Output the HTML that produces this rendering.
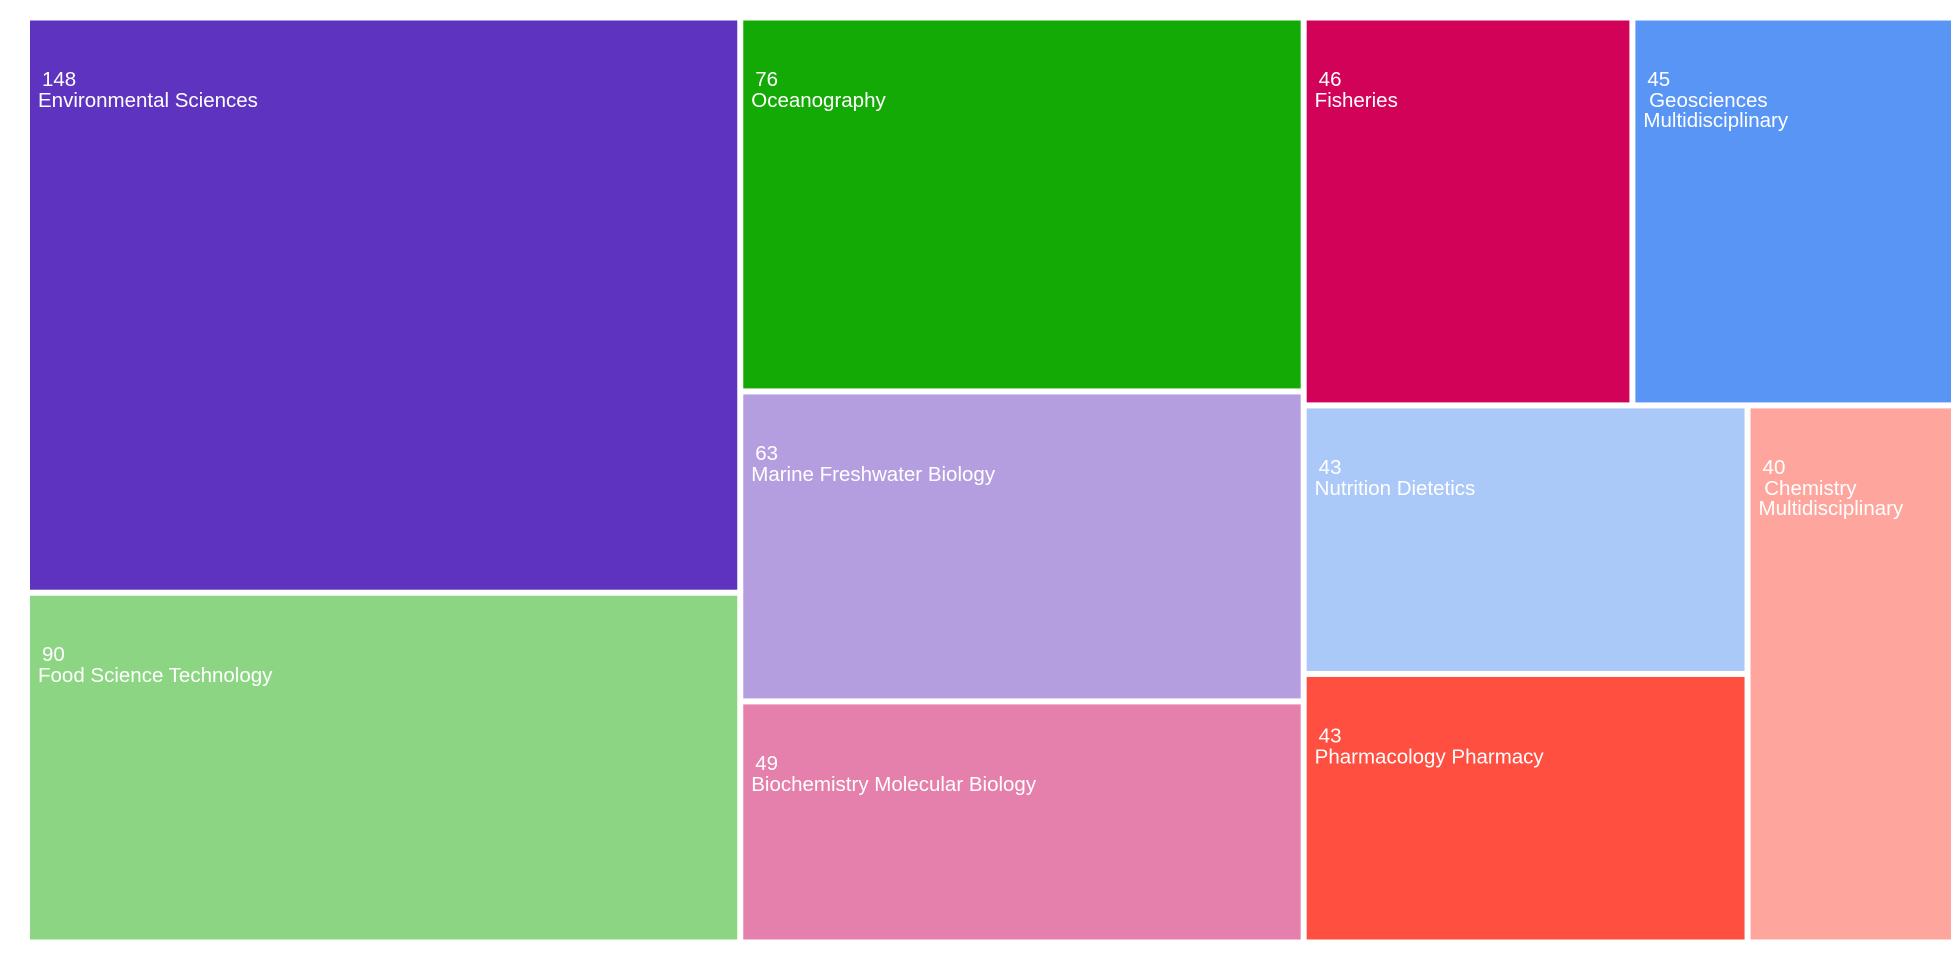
<!DOCTYPE html>
<html><head><meta charset="utf-8">
<style>
html,body{margin:0;padding:0;background:#fff;width:1960px;height:960px;overflow:hidden}
svg text{font-family:"Liberation Sans",sans-serif;fill:#fff;font-size:20.5px}
</style></head>
<body>
<svg id="chart" width="1960" height="960" xmlns="http://www.w3.org/2000/svg"></svg>
<script>
const categories = ["Environmental Sciences","Food Science Technology","Oceanography","Marine Freshwater Biology","Biochemistry Molecular Biology","Fisheries","Geosciences Multidisciplinary","Nutrition Dietetics","Pharmacology Pharmacy","Chemistry Multidisciplinary"];
const values = [148,90,76,63,49,46,45,43,43,40];
const colors = ["#5e33bf","#8cd683","#14aa05","#b49ee0","#e57fab","#d10257","#5895f5","#aac8f8","#ff4f40","#fea59d"];
const labelLines = [["Environmental Sciences"],["Food Science Technology"],["Oceanography"],["Marine Freshwater Biology"],["Biochemistry Molecular Biology"],["Fisheries"],[" Geosciences","Multidisciplinary"],["Nutrition Dietetics"],["Pharmacology Pharmacy"],[" Chemistry","Multidisciplinary"]];
const tree = {d:'h',c:[{d:'v',c:[0,1]},{d:'v',c:[2,3,4]},{d:'v',c:[{d:'h',c:[5,6]},{d:'h',c:[{d:'v',c:[7,8]},9]}]}]};
const svg = document.getElementById('chart');
const NS = 'http://www.w3.org/2000/svg';
function sum(n){return typeof n==='number'?values[n]:n.c.reduce((a,b)=>a+sum(b),0);}
function layout(n,x,y,w,h){
  if(typeof n==='number'){draw(n,x,y,w,h);return;}
  const tot=sum(n);let off=0;
  n.c.forEach(ch=>{const f=sum(ch)/tot;
    if(n.d==='h'){layout(ch,x+off,y,w*f,h);off+=w*f;}
    else{layout(ch,x,y+off,w,h*f);off+=h*f;}});
}
function draw(i,x,y,w,h){
  const g=document.createElementNS(NS,'g');
  
  
  const r=document.createElementNS(NS,'rect');
  r.setAttribute('x',x+1);r.setAttribute('y',y+0.5);
  r.setAttribute('width',Math.max(0,w-6));r.setAttribute('height',Math.max(0,h-6));
  r.setAttribute('fill',colors[i]);
  g.appendChild(r);
  const t=document.createElementNS(NS,'text');
  t.setAttribute('x',x+13);t.setAttribute('y',y+66);t.textContent=values[i];
  
  
  g.appendChild(t);
  labelLines[i].forEach((ln,k)=>{
    const l=document.createElementNS(NS,'text');
    l.setAttribute('x',x+9);l.setAttribute('y',y+87+k*20);
    l.setAttribute('xml:space','preserve');l.style.whiteSpace='pre';
    l.textContent=ln;
    
    
    g.appendChild(l);
  });
  svg.appendChild(g);
}
layout(tree,29,20,1927,925);
</script>
</body></html>
